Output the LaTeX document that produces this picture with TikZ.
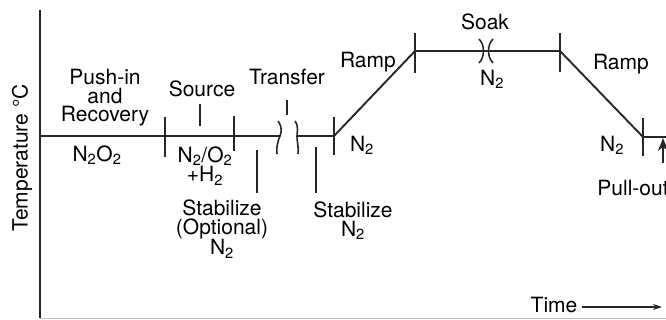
\documentclass[tikz,border=0pt]{standalone}
\usepackage{fontspec}
\setmainfont{TeX Gyre Heros}
\usetikzlibrary{arrows.meta, positioning}

\begin{document}
\begin{tikzpicture}[x=1pt, y=-1pt,
    lbl/.style={font=\fontsize{21}{18.5}\selectfont, align=center, inner sep=0pt},
    prof/.style={line width=1.9pt, black!85},
    tickmark/.style={line width=1.6pt, black!85}]
    \useasboundingbox (0,0) rectangle (666,320);

    % Axes
    \coordinate (origin) at (40,318);
    \coordinate (ytop) at (40,10);
    \coordinate (xend) at (666,318);
    \draw[line width=2pt, black!85] (ytop) -- (origin);
    \draw[line width=1pt, gray!50] (origin) -- (xend);
    \node[lbl, rotate=90] (templbl) at (22,158) {Temperature °C};

    % Profile
    \coordinate (p0) at (40,136);
    \coordinate (brA) at (280,136);
    \coordinate (brB) at (297,136);
    \coordinate (rampL) at (334,136);
    \coordinate (soakL) at (415,51);
    \coordinate (soakR) at (560,51);
    \coordinate (rampR) at (643,137);
    \coordinate (pend) at (666,137);
    \draw[prof] (p0) -- (brA);
    \draw[prof] (brB) -- (rampL) -- (soakL) -- (soakR) -- (rampR) -- (pend);

    % Breaks
    \draw[tickmark] (278,121) .. controls (283,128) and (281,133) .. (brA) .. controls (278,141) and (276,147) .. (277,154);
    \draw[tickmark] (295,121) .. controls (299,127) and (297,132) .. (brB) .. controls (297,143) and (299,148) .. (298,154);
    \draw[tickmark] (479,39) .. controls (485,45) and (485,57) .. (479,63);
    \draw[tickmark] (493,39) .. controls (487,45) and (487,57) .. (493,63);

    % Ticks
    \draw[tickmark] (165,117) -- (165,157);
    \draw[tickmark] (234,116) -- (234,151);
    \draw[tickmark] (334,117) -- (334,155);
    \draw[tickmark] (415,33) -- (415,73);
    \draw[tickmark] (560,33) -- (560,72);
    \draw[tickmark] (643,118) -- (643,156);

    % Pointers
    \draw[tickmark] (200,104) -- (200,126);
    \draw[tickmark] (257,150) -- (257,193);
    \draw[tickmark] (287,100) -- (287,115);
    \draw[tickmark] (316,147) -- (316,193);

    % Stage labels
    \node[lbl] (pushin) at (105,98) {Push-in\\and\\Recovery};
    \node[lbl] (gasA) at (97,155) {N\textsubscript{2}O\textsubscript{2}};
    \node[lbl] (source) at (202,89) {Source};
    \node[lbl] (gasB) at (205,166) {N\textsubscript{2}/O\textsubscript{2}\\+H\textsubscript{2}};
    \node[lbl] (stabA) at (222,229) {Stabilize\\(Optional)\\N\textsubscript{2}};
    \node[lbl] (transfer) at (287,77) {Transfer};
    \node[lbl] (stabB) at (353,221) {Stabilize\\N\textsubscript{2}};
    \node[lbl] (gasC) at (362,145) {N\textsubscript{2}};
    \node[lbl] (rampA) at (368,62) {Ramp};
    \node[lbl] (soak) at (485,22) {Soak};
    \node[lbl] (gasD) at (492,79) {N\textsubscript{2}};
    \node[lbl] (rampB) at (621,64) {Ramp};
    \node[lbl] (gasE) at (612,145) {N\textsubscript{2}};
    \node[lbl] (pullout) at (633,188) {Pull-out};

    % Pull-out arrow
    \coordinate (pulltip) at (663,138);
    \draw[-{Stealth[length=13pt, width=10pt]}, line width=2.2pt, black!85] (663,163) -- (pulltip);

    % Time arrow
    \node[lbl] (timelbl) at (554,305) {Time};
    \coordinate (timeend) at (662,307);
    \draw[-{Stealth[length=9pt, width=6pt]}, line width=1.3pt, black!85] ([xshift=4pt, yshift=-2pt]timelbl.east) -- (timeend);
\end{tikzpicture}
\end{document}
